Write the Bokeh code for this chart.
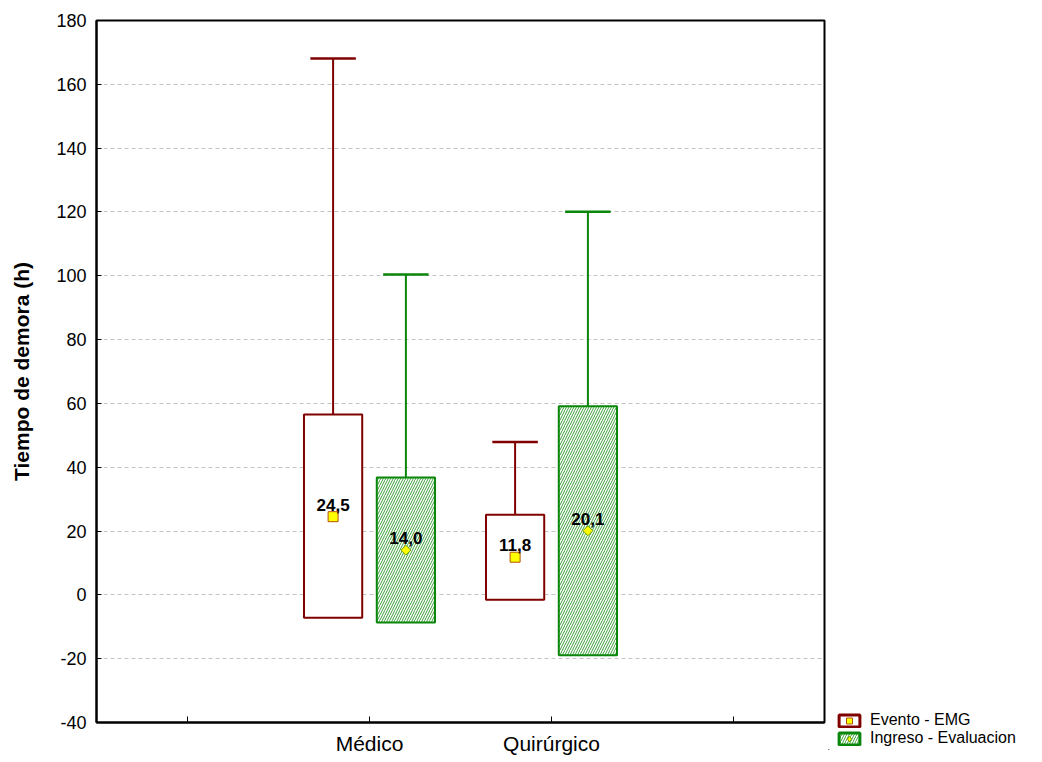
from bokeh.plotting import figure
from bokeh.layouts import row, column
from bokeh.models import ColumnDataSource, FactorRange, FixedTicker, Legend, LegendItem, Spacer
from bokeh.transform import dodge
from bokeh.core.properties import value
from bokeh.embed import file_html
from bokeh.resources import INLINE

# ---------------- data ----------------
axis_factors = ["", "Médico", "Quirúrgico", " "]
categories = ["Médico", "Quirúrgico"]
y_ticks = [-40, -20, 0, 20, 40, 60, 80, 100, 120, 140, 160, 180]

series_names = ["Evento - EMG", "Ingreso - Evaluacion"]

evento_mean = [24.5, 11.8]
evento_box_low = [-7.2, -1.5]
evento_box_high = [56.5, 25.1]
evento_whisker_high = [168.1, 47.9]

ingreso_mean = [14.0, 20.1]
ingreso_box_low = [-8.7, -18.9]
ingreso_box_high = [36.8, 59.1]
ingreso_whisker_high = [100.4, 120.1]

# ---------------- style ----------------
FONT = "Liberation Sans"
RED = "#800000"
GREEN = "#0A860A"
SQ_LINE = "#B8500A"
DI_LINE = "#6E9E00"
HATCH = dict(hatch_pattern="/", hatch_scale=5, hatch_weight=1, hatch_alpha=0.8)


def fmt(v):
    return f"{v:.1f}".replace(".", ",")


src_ev = ColumnDataSource(dict(cat=categories, mean=evento_mean, low=evento_box_low,
                               high=evento_box_high, wtop=evento_whisker_high,
                               label=[fmt(v) for v in evento_mean]))
src_in = ColumnDataSource(dict(cat=categories, mean=ingreso_mean, low=ingreso_box_low,
                               high=ingreso_box_high, wtop=ingreso_whisker_high,
                               label=[fmt(v) for v in ingreso_mean]))

p = figure(x_range=FactorRange(factors=axis_factors, range_padding=0),
           y_range=(-40, 180), width=828, height=760,
           output_backend="svg", toolbar_location=None,
           min_border_left=96, min_border_right=4, min_border_top=20, min_border_bottom=38)

p.background_fill_color = "white"
p.border_fill_color = "white"
p.outline_line_color = "black"
p.outline_line_width = 2

p.xgrid.grid_line_color = None
p.ygrid.grid_line_color = "#C4C4C4"
p.ygrid.grid_line_dash = "4 3"
p.ygrid.grid_line_width = 1

p.yaxis.ticker = FixedTicker(ticks=y_ticks)
p.yaxis.major_label_overrides = {t: str(t) for t in y_ticks}
p.yaxis.axis_label = "Tiempo de demora (h)"
p.yaxis.axis_label_text_font = FONT
p.yaxis.axis_label_text_font_style = "bold"
p.yaxis.axis_label_text_font_size = "21px"
p.yaxis.axis_label_text_color = "black"
p.yaxis.axis_label_standoff = 20
p.yaxis.major_label_text_font = FONT
p.yaxis.major_label_text_font_size = "18px"
p.yaxis.major_label_text_color = "black"
p.yaxis.major_label_standoff = 10
p.yaxis.major_tick_in = 5
p.yaxis.major_tick_out = 0
p.yaxis.minor_tick_line_color = None
p.yaxis.axis_line_width = 2
p.yaxis.major_tick_line_width = 1

p.xaxis.major_label_text_font = FONT
p.xaxis.major_label_text_font_size = "21px"
p.xaxis.major_label_text_color = "black"
p.xaxis.major_label_standoff = 9
p.xaxis.major_tick_in = 6
p.xaxis.major_tick_out = 0
p.xaxis.axis_line_width = 2
p.xaxis.major_tick_line_width = 1


def draw(src, offset, color, hatch, marker, msize, mangle, mline):
    xc = dodge("cat", offset, range=p.x_range)
    p.segment(x0=xc, y0="high", x1=xc, y1="wtop", line_color=color, line_width=2, source=src)
    p.segment(x0=dodge("cat", offset - 0.125, range=p.x_range), y0="wtop",
              x1=dodge("cat", offset + 0.125, range=p.x_range), y1="wtop",
              line_color=color, line_width=2.5, source=src)
    kw = dict(HATCH, hatch_color=color) if hatch else {}
    p.vbar(x=xc, width=0.32, bottom="low", top="high", fill_color="white",
           line_color=color, line_width=2, source=src, **kw)
    p.scatter(x=xc, y="mean", marker=marker, size=msize, angle=mangle,
              fill_color="#FFFF00", line_color=mline, line_width=1, source=src)
    p.text(x=xc, y="mean", text="label", text_align="center", text_baseline="bottom",
           y_offset=-6, text_font=value(FONT), text_font_style="bold",
           text_font_size="17px", text_color="black", source=src)


draw(src_ev, -0.2, RED, False, "square", 10, 0, SQ_LINE)
draw(src_in, 0.2, GREEN, True, "square", 7, 0.785398, DI_LINE)

# ---------------- legend panel (small separate figure, bottom right) ----------------
q = figure(width=206, height=52, x_range=(0, 1), y_range=(0, 1),
           x_axis_location=None, y_axis_location=None,
           output_backend="svg", toolbar_location=None, min_border=0)
q.grid.grid_line_color = None
q.outline_line_color = None
q.background_fill_color = "white"
q.border_fill_color = "white"

# legend swatches only: one point each, placed outside the visible range
lb1 = q.vbar(x=[-5], top=[-5], width=0.1, fill_color="white", line_color=RED, line_width=3)
lm1 = q.scatter(x=[-5], y=[-5], marker="square", size=10,
                fill_color="#FFFF00", line_color=SQ_LINE)
lb2 = q.vbar(x=[-5], top=[-5], width=0.1, fill_color="white", line_color=GREEN, line_width=3,
             hatch_color=GREEN, **HATCH)
lm2 = q.scatter(x=[-5], y=[-5], marker="diamond", size=10,
                fill_color="#FFFF00", line_color=DI_LINE)

legend = Legend(items=[LegendItem(label=series_names[0], renderers=[lb1, lm1]),
                       LegendItem(label=series_names[1], renderers=[lb2, lm2])],
                location=(8, 3), orientation="vertical",
                border_line_alpha=0, background_fill_alpha=0,
                padding=0, margin=0, spacing=0,
                glyph_width=26, glyph_height=15, label_standoff=8, label_height=15,
                label_text_font=FONT, label_text_font_size="16px", label_text_color="black")
q.add_layout(legend)

side = column(Spacer(width=206, height=698), q, spacing=0)
layout = row(p, side, spacing=0)
open("out.html", "w").write(file_html(layout, INLINE))
